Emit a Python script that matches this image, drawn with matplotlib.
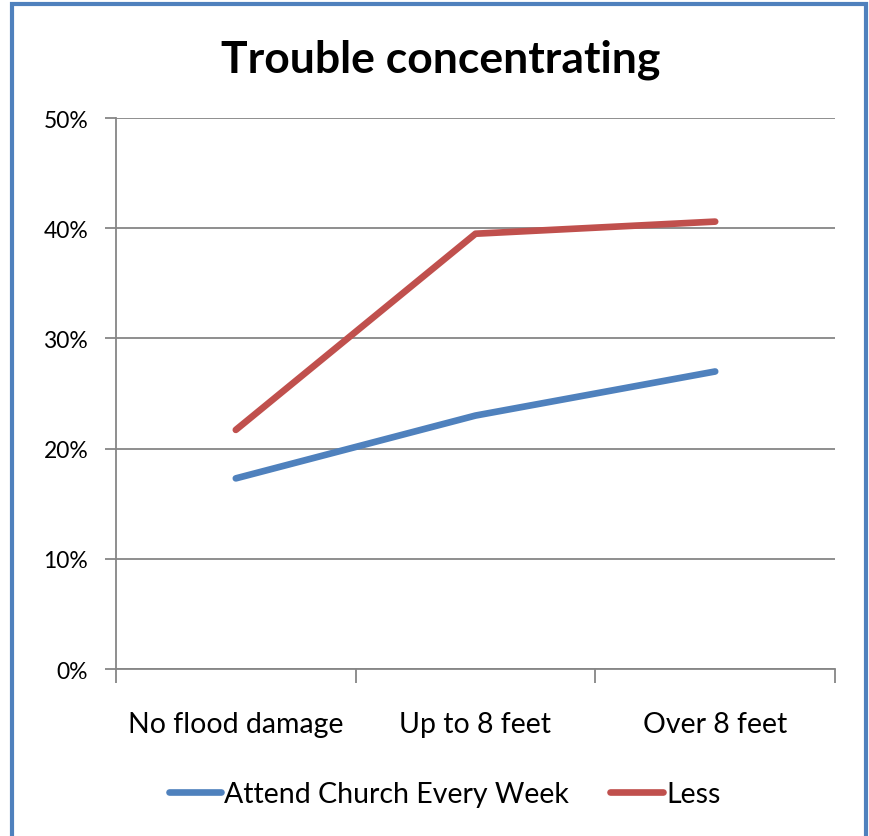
import matplotlib.pyplot as plt
from matplotlib.patches import Rectangle
from matplotlib.ticker import PercentFormatter

categories = ["No flood damage", "Up to 8 feet", "Over 8 feet"]
church_weekly = [17.3, 23.0, 27.0]
less = [21.7, 39.5, 40.6]
series_names = ["Attend Church Every Week", "Less"]

plt.rcParams["font.family"] = ["Lato", "DejaVu Sans"]

fig = plt.figure(figsize=(8.7, 8.37), dpi=100)
ax = fig.add_axes([0.1333, 0.1995, 0.8265, 0.6583])

x = range(len(categories))
ax.plot(x, church_weekly, color="#4F81BD", lw=4.8, label=series_names[0],
        solid_capstyle="round")
ax.plot(x, less, color="#C0504D", lw=4.8, label=series_names[1],
        solid_capstyle="round")

ax.set_xlim(-0.5, 2.5)
ax.set_ylim(0, 50)
ax.set_yticks(range(0, 51, 10))
ax.yaxis.set_major_formatter(PercentFormatter(decimals=0))
ax.grid(axis="y", color="#868686", lw=1.3)
ax.set_axisbelow(True)

# category labels centred, tick marks on the boundaries
ax.set_xticks(list(x))
ax.set_xticklabels(categories, fontsize=20.5)
ax.set_xticks([-0.5, 0.5, 1.5, 2.5], minor=True)
ax.tick_params(axis="x", which="major", length=0, pad=30)
ax.tick_params(axis="x", which="minor", length=10, color="#868686", width=1.3)
ax.tick_params(axis="y", length=8, color="#868686", width=1.3, labelsize=16.5, pad=12)

for s in ["top", "right"]:
    ax.spines[s].set_visible(False)
for s in ["left", "bottom"]:
    ax.spines[s].set_color("#868686")
    ax.spines[s].set_linewidth(1.3)

fig.text(0.506, 0.929, "Trouble concentrating", ha="center", va="center",
         fontsize=32, fontweight="bold")

fig.legend(loc="center", bbox_to_anchor=(0.511, 0.05), ncol=2, frameon=False,
           fontsize=20.5, handlelength=1.85, handletextpad=0.1, columnspacing=1.45)

# chart border
fig.patches.append(Rectangle((12 / 870, -0.02), 854 / 870, 1 - 5 / 837 + 0.02,
                             transform=fig.transFigure, fill=False,
                             edgecolor="#4F81BD", lw=3))

fig.savefig("out.png", dpi=100)
